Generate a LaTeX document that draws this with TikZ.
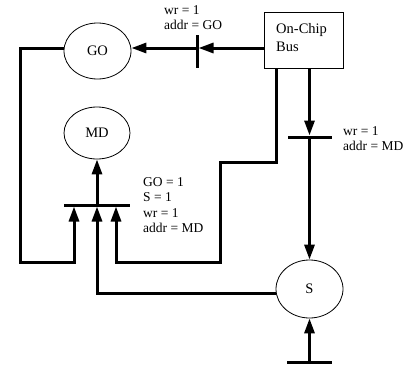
\documentclass[tikz,border=0pt]{standalone}
\usepackage{fontspec}
\setmainfont{Liberation Serif}
\usetikzlibrary{arrows.meta,shapes.geometric}
\begin{document}
\begin{tikzpicture}[x=1pt,y=-1pt,
  wire/.style={line width=3pt, line join=miter},
  tip/.style={-{Triangle[length=15pt,width=10pt]}},
  place/.style={ellipse, draw, line width=0.8pt, inner sep=0pt, font=\fontsize{14.5}{17}\selectfont},
  tbar/.style={fill=black, draw=none, inner sep=0pt, outer sep=0pt},
  lbl/.style={align=left, inner sep=0pt, anchor=north west, font=\fontsize{13.5}{15.5}\selectfont}]
\useasboundingbox (0,0) rectangle (406,364);

% bus box
\node[draw, line width=0.8pt, minimum width=79pt, minimum height=56pt, inner sep=0pt] (bus) at (303.5,40) {};
\node[align=left, anchor=north west, inner sep=0pt, font=\fontsize{14.5}{18}\selectfont] (buslbl) at (276,23) {On-Chip\\Bus};

% places
\node[place, minimum width=67pt, minimum height=56pt] (GO) at (97.5,51) {GO};
\node[place, minimum width=66pt, minimum height=52pt] (MD) at (97,133) {MD};
\node[place, minimum width=67pt, minimum height=58pt] (S) at (309.5,289) {S};

% transition bars
\node[tbar, minimum width=3pt, minimum height=33pt] (t1) at (197,51.5) {};
\node[tbar, minimum width=66pt, minimum height=3pt] (t2) at (97,205) {};
\node[tbar, minimum width=44pt, minimum height=3pt] (t3) at (309.5,137) {};
\node[tbar, minimum width=45pt, minimum height=3pt] (t4) at (309.5,362.5) {};

% helper coordinates
\coordinate (yTop) at (0,48);
\coordinate (yS) at (0,293);
\coordinate (xA) at (74,0);
\coordinate (xC) at (116,0);
\coordinate (xBus) at (309.5,0);
\coordinate (xBusL) at (276,0);
\coordinate (cL) at (20,262);
\coordinate (cR) at (220,262);
\coordinate (cStep) at (220,162);

% connectors
\draw[wire,tip] (bus.west |- yTop) -- (t1.east |- yTop);
\draw[wire,tip] (t1.center |- yTop) -- (GO.east |- yTop);
\draw[wire,tip] (GO.west |- yTop) -| (cL) -| (t2.south -| xA);
\draw[wire,tip] (S.west |- yS) -| (t2.south);
\draw[wire,tip] (bus.south -| xBusL) |- (cStep) -- (cR) -| (t2.south -| xC);
\draw[wire,tip] (t2.center) -- (MD.south);
\draw[wire,tip] (bus.south -| xBus) -- (t3.north);
\draw[wire,tip] (t3.center) -- (S.north);
\draw[wire,tip] (t4.center) -- (S.south);

% labels
\node[lbl] (l1) at (164,5) {wr = 1\\addr = GO};
\node[lbl] (l2) at (143,177) {GO = 1\\S = 1\\wr = 1\\addr = MD};
\node[lbl] (l3) at (343,126) {wr = 1\\addr = MD};
\end{tikzpicture}
\end{document}
